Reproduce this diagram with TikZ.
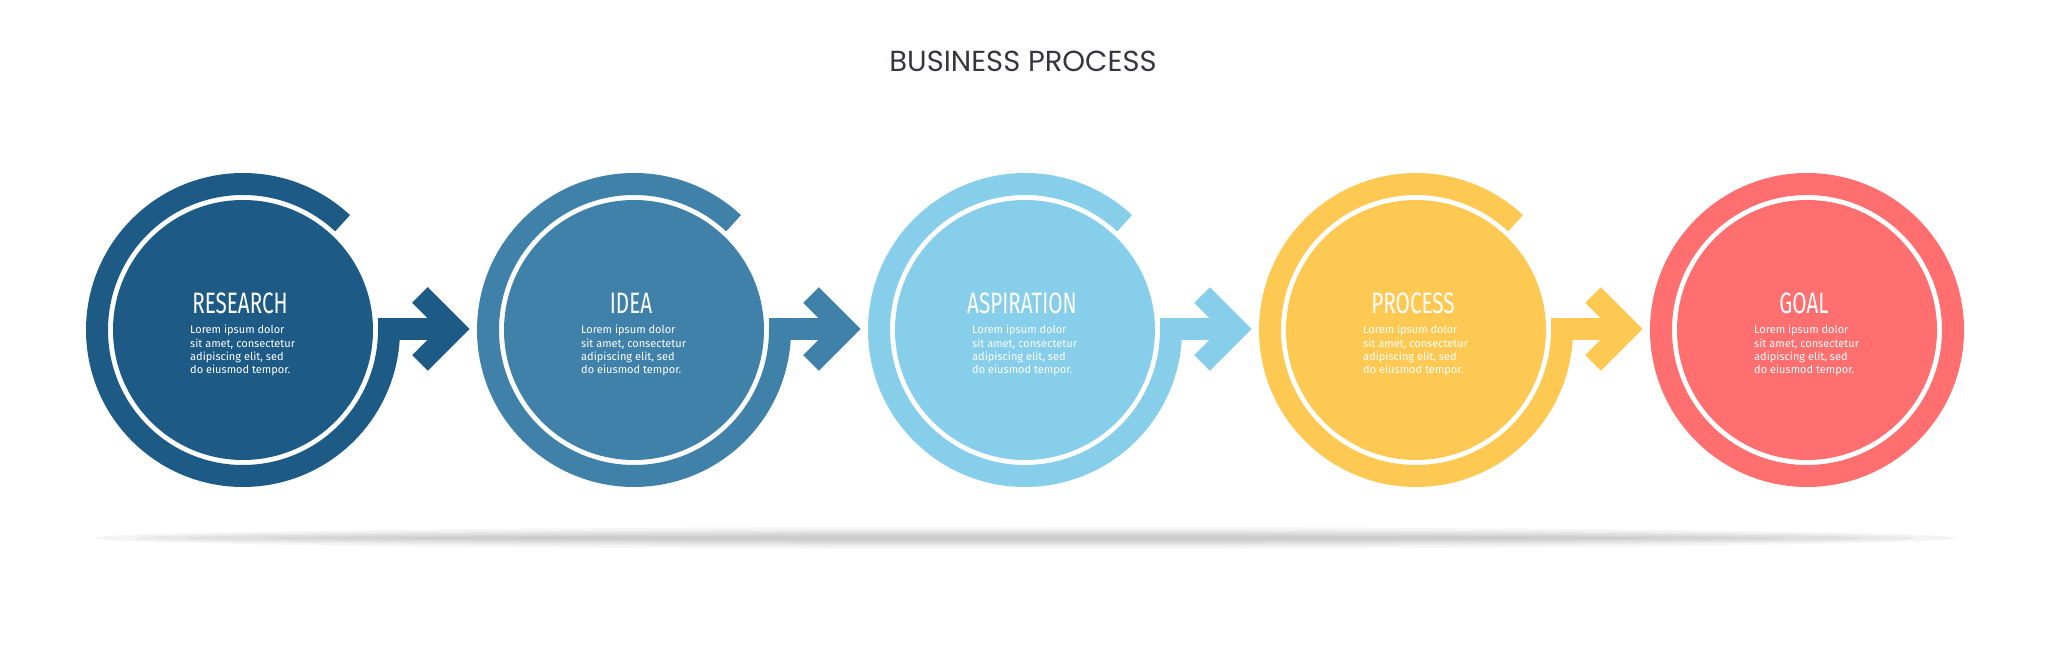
\documentclass[tikz,border=0pt]{standalone}
\usepackage{fontspec}
\setmainfont{Fira Sans}
\newfontfamily\headfont{Fira Sans}[FakeStretch=0.7]
\newfontfamily\titlefont{Poppins}
\usetikzlibrary{calc}
\definecolor{stepA}{HTML}{1D5A85}
\definecolor{stepB}{HTML}{3F81A8}
\definecolor{stepC}{HTML}{87CEEB}
\definecolor{stepD}{HTML}{FEC952}
\definecolor{stepE}{HTML}{FF6F6F}
\definecolor{titlegray}{HTML}{3A3440}
\tikzset{
  disk/.style={circle, fill=#1, minimum size=260, inner sep=0},
  ring/.style={draw=#1, line width=22},
  head/.style={text=white, font=\headfont\fontsize{29.5}{29.5}\selectfont},
  body/.style={text=white, align=left, anchor=north west, inner sep=0,
    font=\fontsize{11}{13.3}\selectfont},
}
\begin{document}
\begin{tikzpicture}[x=1pt, y=1pt]
  \useasboundingbox (0,0) rectangle (2048,658);
  % soft shadow under the row
  \foreach \rx/\ry in {930/11, 890/8, 840/6, 760/4, 640/2.5}
    \fill[black, opacity=0.045] (1025,120) ellipse [x radius=\rx, y radius=\ry];
  \node[text=titlegray, font=\titlefont\fontsize{29}{29}\selectfont] (title) at (1023,597) {BUSINESS PROCESS};
  % steps
  \foreach \i/\x/\col/\name in {1/243/stepA/RESEARCH, 2/634/stepB/IDEA, 3/1025/stepC/ASPIRATION, 4/1416/stepD/PROCESS}{
    \node[disk=\col] (c\i) at (\x,328) {};
    \draw[ring=\col] ($(c\i)+(47:146)$) arc[start angle=47, end angle=360, radius=146];
    \draw[ring=\col] ($(c\i)+(135,1)$) -- ($(c\i)+(205,1)$);
    \draw[ring=\col, miter limit=10] ($(c\i)+(177,35)$) -- ($(c\i)+(211,1)$) -- ($(c\i)+(177,-33)$);
    \node[head] (h\i) at ($(c\i)+(-3,27)$) {\name};
    \node[body] (t\i) at ($(c\i)+(-53,5)$) {Lorem ipsum dolor\\sit amet, consectetur\\adipiscing elit, sed\\do eiusmod tempor.};
  }
  \node[disk=stepE] (c5) at (1807,328) {};
  \draw[ring=stepE] (c5) circle[radius=146];
  \node[head] (h5) at ($(c5)+(-3,27)$) {GOAL};
  \node[body] (t5) at ($(c5)+(-53,5)$) {Lorem ipsum dolor\\sit amet, consectetur\\adipiscing elit, sed\\do eiusmod tempor.};
\end{tikzpicture}
\end{document}
